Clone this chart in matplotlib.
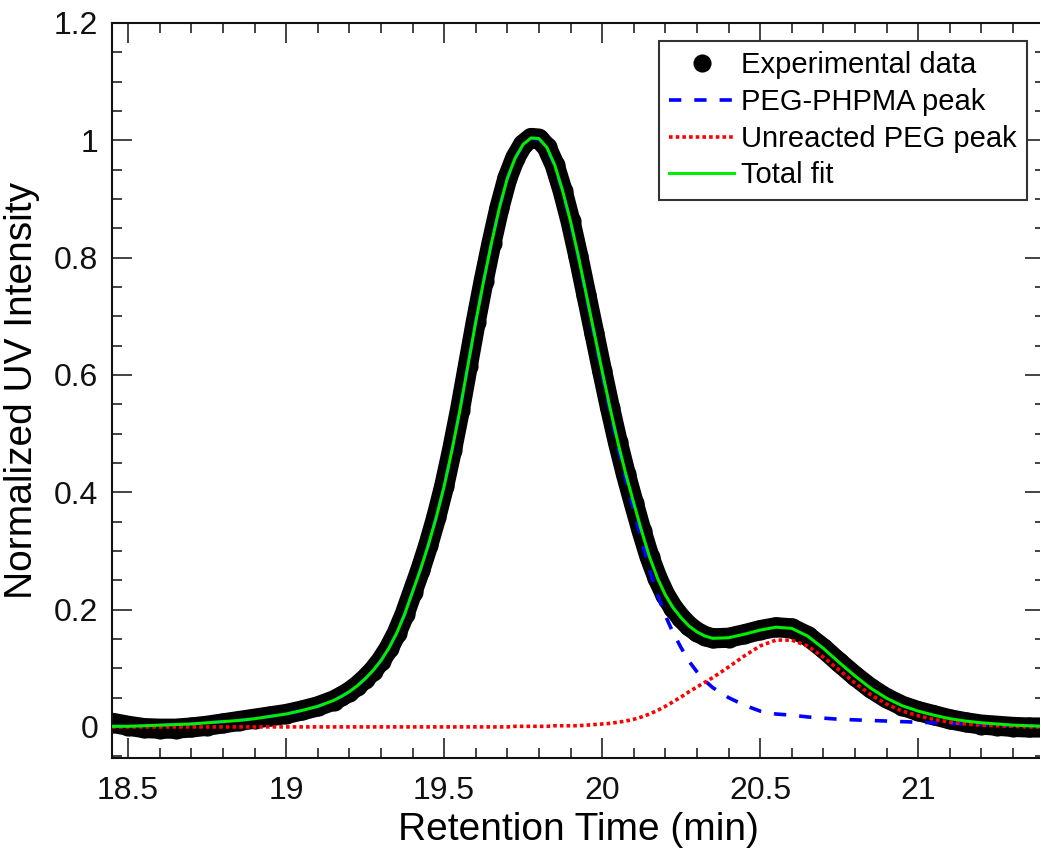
import matplotlib
matplotlib.use("Agg")
import matplotlib.pyplot as plt
from matplotlib.ticker import MultipleLocator, FuncFormatter

plt.rcParams['font.family'] = ['Liberation Sans', 'DejaVu Sans']

# retention time (min), finer spacing where the trace bends
time = [18.45, 18.50, 18.55, 18.60, 18.65, 18.70, 18.75, 18.80, 18.85, 18.90,
        18.95, 19.00, 19.05, 19.10, 19.15,
        19.175, 19.20, 19.225, 19.25, 19.275, 19.30, 19.325, 19.35, 19.375, 19.40,
        19.425, 19.45, 19.475, 19.50, 19.525, 19.55, 19.575, 19.60, 19.625, 19.65,
        19.675, 19.70, 19.725, 19.75, 19.775, 19.80, 19.825, 19.85, 19.875, 19.90,
        19.925, 19.95, 19.975, 20.00, 20.025, 20.05, 20.075, 20.10, 20.125, 20.15,
        20.175, 20.20, 20.225, 20.25, 20.275, 20.30, 20.325, 20.35,
        20.40, 20.45, 20.50, 20.55, 20.60, 20.65, 20.70, 20.75, 20.80, 20.85,
        20.90, 20.95, 21.00, 21.05, 21.10, 21.15, 21.20, 21.25, 21.30, 21.35, 21.40]

# experimental trace
exp_data = [0.007, 0.002, -0.002, -0.003, -0.003, -0.001, 0.002, 0.006, 0.010, 0.014,
            0.018, 0.022, 0.028, 0.035, 0.045,
            0.052, 0.060, 0.070, 0.082, 0.096, 0.113, 0.134, 0.160, 0.192, 0.230,
            0.268, 0.310, 0.357, 0.410, 0.472, 0.540, 0.615, 0.690, 0.760, 0.825,
            0.885, 0.935, 0.970, 0.993, 1.004, 1.003, 0.988, 0.958, 0.914, 0.862,
            0.802, 0.737, 0.672, 0.607, 0.544, 0.485, 0.431, 0.382, 0.334, 0.290,
            0.254, 0.225, 0.203, 0.186, 0.172, 0.162, 0.155, 0.151,
            0.152, 0.158, 0.165, 0.170, 0.168, 0.155, 0.134, 0.110, 0.087, 0.066,
            0.049, 0.036, 0.027, 0.020, 0.013, 0.008, 0.004, 0.002, 0.000, -0.001, -0.001]

# PEG-PHPMA peak (blue dashed)
peg_phpma = [0.001, 0.001, 0.002, 0.003, 0.004, 0.005, 0.007, 0.009, 0.011, 0.014,
             0.018, 0.022, 0.028, 0.035, 0.045,
             0.052, 0.060, 0.070, 0.082, 0.096, 0.113, 0.134, 0.160, 0.192, 0.230,
             0.268, 0.310, 0.357, 0.410, 0.472, 0.540, 0.615, 0.690, 0.760, 0.825,
             0.885, 0.935, 0.969, 0.992, 1.003, 1.002, 0.987, 0.956, 0.912, 0.860,
             0.800, 0.734, 0.668, 0.602, 0.538, 0.477, 0.421, 0.369, 0.317, 0.268,
             0.226, 0.190, 0.160, 0.135, 0.112, 0.094, 0.079, 0.067,
             0.050, 0.037, 0.027, 0.022, 0.020, 0.017, 0.015, 0.013, 0.012, 0.011,
             0.010, 0.009, 0.008, 0.007, 0.006, 0.005, 0.004, 0.003, 0.002, 0.002, 0.001]

# unreacted PEG peak (red dotted)
peg_free = [0.000, 0.000, 0.000, 0.000, 0.000, 0.000, 0.000, 0.000, 0.000, 0.000,
            0.000, 0.000, 0.000, 0.000, 0.000,
            0.000, 0.000, 0.000, 0.000, 0.000, 0.000, 0.000, 0.000, 0.000, 0.000,
            0.000, 0.000, 0.000, 0.000, 0.000, 0.000, 0.000, 0.000, 0.000, 0.000,
            0.000, 0.000, 0.001, 0.001, 0.001, 0.001, 0.001, 0.002, 0.002, 0.002,
            0.002, 0.003, 0.004, 0.005, 0.006, 0.008, 0.010, 0.013, 0.017, 0.022,
            0.028, 0.035, 0.043, 0.051, 0.060, 0.068, 0.076, 0.084,
            0.102, 0.121, 0.138, 0.148, 0.148, 0.138, 0.119, 0.097, 0.075, 0.055,
            0.039, 0.027, 0.019, 0.013, 0.008, 0.005, 0.003, 0.002, 0.001, 0.000, 0.000]

# total fit (green)
total_fit = [0.001, 0.001, 0.002, 0.003, 0.004, 0.005, 0.007, 0.009, 0.011, 0.014,
             0.018, 0.022, 0.028, 0.035, 0.045,
             0.052, 0.060, 0.070, 0.082, 0.096, 0.113, 0.134, 0.160, 0.192, 0.230,
             0.268, 0.310, 0.357, 0.410, 0.472, 0.540, 0.615, 0.690, 0.760, 0.825,
             0.885, 0.935, 0.970, 0.993, 1.004, 1.003, 0.988, 0.958, 0.914, 0.862,
             0.802, 0.737, 0.672, 0.607, 0.544, 0.485, 0.431, 0.382, 0.334, 0.290,
             0.254, 0.225, 0.203, 0.186, 0.172, 0.162, 0.155, 0.151,
             0.152, 0.158, 0.165, 0.170, 0.168, 0.155, 0.134, 0.110, 0.087, 0.066,
             0.049, 0.036, 0.027, 0.020, 0.014, 0.010, 0.007, 0.005, 0.003, 0.002, 0.001]

fig = plt.figure(figsize=(10.4, 8.5), dpi=100)
ax = fig.add_axes([112 / 1040, 1 - 758 / 850, (1044.5 - 112) / 1040, (758 - 23) / 850])

# thick band under the markers so the dense data reads as one trace
ax.plot(time, exp_data, color='black', lw=14.5, solid_capstyle='round',
        solid_joinstyle='round', zorder=2)
ax.plot(time, exp_data, 'o', color='black', ms=14.5, mew=0, zorder=2,
        label='Experimental data')
ax.plot(time, peg_phpma, color='#0000ff', lw=2.6, dashes=(3.4, 3.6), zorder=3,
        label='PEG-PHPMA peak')
ax.plot(time, peg_free, color='#ff0000', lw=2.6, dashes=(1.0, 0.85), zorder=3,
        label='Unreacted PEG peak')
ax.plot(time, total_fit, color='#00ee00', lw=2.2, zorder=4, label='Total fit')

ax.set_xlim(18.449, 21.40)
ax.set_ylim(-0.053, 1.2)

ax.xaxis.set_major_locator(MultipleLocator(0.5))
ax.xaxis.set_minor_locator(MultipleLocator(0.1))
ax.yaxis.set_major_locator(MultipleLocator(0.2))
ax.yaxis.set_minor_locator(MultipleLocator(0.05))
fmt = FuncFormatter(lambda v, p: '%g' % round(v, 3))
ax.xaxis.set_major_formatter(fmt)
ax.yaxis.set_major_formatter(fmt)

ax.tick_params(which='both', direction='in', top=True, right=True, width=1.1,
               colors='#111111', labelsize=23)
ax.tick_params(which='major', length=14.4)
ax.tick_params(which='minor', length=7.2)
ax.tick_params(axis='x', which='major', pad=13)
ax.tick_params(axis='y', which='major', pad=10)
for s in ax.spines.values():
    s.set_linewidth(1.5)
    s.set_color('#111111')

ax.set_xlabel('Retention Time (min)', fontsize=28, labelpad=4)
ax.set_ylabel('Normalized UV Intensity', fontsize=28, labelpad=10)

leg = ax.legend(loc='upper right', bbox_to_anchor=(0.981, 0.9755), borderaxespad=0,
                fontsize=21, frameon=True, fancybox=False, handlelength=2.2,
                handletextpad=0.25, labelspacing=0.3, borderpad=0.35, numpoints=1,
                markerscale=0.9)
leg.get_frame().set_edgecolor('#333333')
leg.get_frame().set_linewidth(1.5)
leg.get_frame().set_alpha(1)

fig.savefig('out.png', dpi=100)
